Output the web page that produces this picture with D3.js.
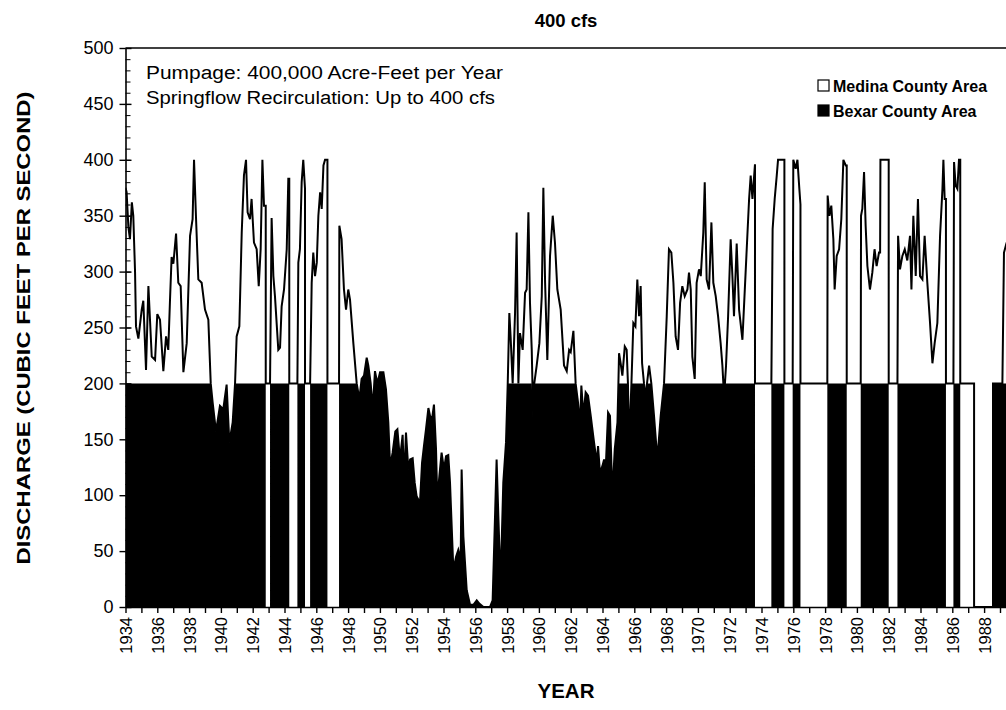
<!DOCTYPE html>
<html><head><meta charset="utf-8">
<script src="https://cdn.jsdelivr.net/npm/d3@7"></script>
<style>
body{margin:0;background:#fff}
svg{display:block}
text{font-family:Arial,"Liberation Sans",sans-serif;fill:#000}
</style>
</head><body>
<svg id="chart" width="1006" height="710"></svg>
<script>
// ---- data ----
const years = [
1934.00,1934.07,1934.18,1934.28,1934.40,1934.49,1934.60,1934.66,1934.81,1935.02,
1935.12,1935.29,1935.44,1935.65,1935.86,1936.00,1936.17,1936.38,1936.55,1936.69,
1936.80,1936.90,1937.01,1937.18,1937.32,1937.47,1937.64,1937.85,1938.06,1938.22,
1938.31,1938.43,1938.58,1938.79,1939.00,1939.21,1939.36,1939.48,1939.69,1939.94,
1940.15,1940.36,1940.53,1940.74,1940.89,1940.99,1941.16,1941.31,1941.45,1941.58,
1941.68,1941.83,1941.93,1942.08,1942.25,1942.38,1942.50,1942.61,1942.71,1942.82,
1942.82,1943.09,1943.09,1943.19,1943.30,1943.40,1943.61,1943.72,1943.82,1943.97,
1944.14,1944.24,1944.30,1944.30,1944.81,1944.81,1944.87,1944.97,1945.08,1945.18,
1945.29,1945.29,1945.61,1945.61,1945.71,1945.81,1945.92,1946.03,1946.13,1946.24,
1946.34,1946.45,1946.55,1946.70,1946.70,1947.43,1947.43,1947.45,1947.59,1947.74,
1947.87,1948.01,1948.12,1948.33,1948.54,1948.71,1948.85,1949.00,1949.17,1949.27,
1949.42,1949.55,1949.69,1949.84,1950.01,1950.22,1950.38,1950.53,1950.64,1950.80,
1950.97,1951.10,1951.26,1951.43,1951.52,1951.64,1951.79,1951.90,1952.06,1952.19,
1952.31,1952.52,1952.65,1952.77,1952.90,1953.05,1953.15,1953.28,1953.40,1953.53,
1953.61,1953.74,1953.88,1954.03,1954.16,1954.30,1954.41,1954.62,1954.79,1954.93,
1955.08,1955.14,1955.25,1955.46,1955.67,1955.88,1956.09,1956.25,1956.51,1956.92,
1957.09,1957.24,1957.34,1957.45,1957.59,1957.76,1957.93,1958.04,1958.14,1958.22,
1958.35,1958.50,1958.60,1958.71,1958.81,1958.98,1959.13,1959.23,1959.34,1959.44,
1959.55,1959.65,1959.71,1959.86,1960.03,1960.18,1960.28,1960.39,1960.53,1960.70,
1960.87,1961.01,1961.16,1961.37,1961.58,1961.75,1961.90,1962.00,1962.17,1962.31,
1962.46,1962.59,1962.67,1962.80,1962.94,1963.09,1963.26,1963.47,1963.64,1963.72,
1963.84,1963.99,1964.10,1964.20,1964.35,1964.47,1964.62,1964.77,1964.94,1965.00,
1965.04,1965.14,1965.25,1965.40,1965.52,1965.60,1965.67,1965.82,1965.94,1966.07,
1966.19,1966.30,1966.40,1966.49,1966.61,1966.72,1966.80,1966.93,1967.07,1967.24,
1967.45,1967.66,1967.87,1968.04,1968.18,1968.33,1968.46,1968.60,1968.75,1968.88,
1969.02,1969.17,1969.34,1969.44,1969.55,1969.65,1969.80,1969.92,1970.07,1970.18,
1970.34,1970.43,1970.55,1970.70,1970.85,1970.97,1971.12,1971.27,1971.43,1971.54,
1971.60,1971.64,1971.70,1971.77,1971.90,1972.06,1972.17,1972.27,1972.44,1972.59,
1972.80,1972.94,1973.07,1973.22,1973.32,1973.43,1973.59,1973.59,1974.62,1974.62,
1974.70,1974.83,1974.96,1975.04,1975.44,1975.44,1975.96,1975.96,1976.00,1976.15,
1976.26,1976.38,1976.45,1976.45,1978.14,1978.14,1978.16,1978.27,1978.39,1978.52,
1978.60,1978.73,1978.88,1979.02,1979.15,1979.30,1979.36,1979.36,1980.24,1980.24,
1980.26,1980.34,1980.45,1980.55,1980.66,1980.82,1980.97,1981.11,1981.24,1981.39,
1981.46,1981.48,1982.00,1982.00,1982.55,1982.55,1982.59,1982.71,1982.86,1983.01,
1983.17,1983.34,1983.43,1983.55,1983.70,1983.84,1983.97,1984.12,1984.26,1984.43,
1984.60,1984.75,1984.89,1985.06,1985.23,1985.38,1985.44,1985.52,1985.60,1985.60,
1986.07,1986.07,1986.11,1986.21,1986.32,1986.42,1986.50,1986.50,1987.37,1987.37,
1988.56,1988.56,1989.15,1989.25,1989.42
];
const total = [
375,371,340,329,362,350,300,251,240,266,
274,212,287,224,221,262,257,211,242,230,
275,313,307,334,290,287,210,236,332,347,
400,350,293,290,266,257,200,183,157,180,
177,199,147,165,200,242,251,335,386,400,
353,347,365,326,320,287,320,400,359,359,
200,200,200,348,296,278,230,232,269,284,
320,383,383,200,200,200,308,320,380,400,
374,200,200,200,290,317,296,308,350,371,
356,395,400,400,200,200,200,341,329,284,
266,284,275,236,200,186,204,207,223,216,
200,177,211,200,210,210,195,165,126,138,
157,159,132,154,111,156,123,132,133,111,
99,93,129,144,159,178,171,168,181,141,
96,117,138,123,135,136,111,33,45,51,
42,123,63,15,2,2,6,3,0,0,
6,81,132,81,21,111,147,200,263,242,
200,263,335,200,245,230,281,284,353,272,
230,162,200,216,236,278,375,290,221,314,
350,326,284,266,216,211,230,228,247,200,
183,162,198,171,192,189,171,147,129,144,
120,126,132,123,174,171,99,141,165,200,
227,218,207,233,230,200,145,200,254,251,
293,260,287,218,200,187,200,216,200,171,
132,171,200,260,320,317,290,242,230,272,
287,278,284,299,284,224,204,290,302,296,
335,380,293,284,344,290,278,260,236,216,
200,180,200,216,260,329,296,260,325,266,
239,281,320,365,386,365,396,200,200,200,
338,365,386,400,400,200,200,200,400,392,
400,374,360,200,200,200,368,350,359,329,
284,314,320,347,400,395,395,200,200,200,
350,356,389,341,305,284,299,320,305,317,
317,400,400,200,200,200,332,302,314,320,
310,332,284,350,296,365,296,293,332,290,
254,218,236,254,332,374,400,365,365,200,
200,200,398,377,374,400,400,200,200,0,
0,200,200,317,326
];
const bexar = [
200,200,200,200,200,200,200,200,200,200,
200,200,200,200,200,200,200,200,200,200,
200,200,200,200,200,200,200,200,200,200,
200,200,200,200,200,200,200,183,157,180,
177,199,147,165,200,200,200,200,200,200,
200,200,200,200,200,200,200,200,200,200,
0,0,200,200,200,200,200,200,200,200,
200,200,200,0,0,200,200,200,200,200,
200,0,0,200,200,200,200,200,200,200,
200,200,200,200,0,0,200,200,200,200,
200,200,200,200,200,186,204,207,223,216,
200,177,211,200,210,210,195,165,126,138,
157,159,132,154,111,156,123,132,133,111,
99,93,129,144,159,178,171,168,181,141,
96,117,138,123,135,136,111,33,45,51,
42,123,63,15,2,2,6,3,0,0,
6,81,132,81,21,111,147,200,200,200,
200,200,200,200,200,200,200,200,200,200,
200,162,200,200,200,200,200,200,200,200,
200,200,200,200,200,200,200,200,200,200,
183,162,198,171,192,189,171,147,129,144,
120,126,132,123,174,171,99,141,165,200,
200,200,200,200,200,200,145,200,200,200,
200,200,200,200,200,187,200,200,200,171,
132,171,200,200,200,200,200,200,200,200,
200,200,200,200,200,200,200,200,200,200,
200,200,200,200,200,200,200,200,200,200,
200,180,200,200,200,200,200,200,200,200,
200,200,200,200,200,200,200,0,0,200,
200,200,200,200,200,0,0,200,200,200,
200,200,200,0,0,200,200,200,200,200,
200,200,200,200,200,200,200,0,0,200,
200,200,200,200,200,200,200,200,200,200,
200,200,200,0,0,200,200,200,200,200,
200,200,200,200,200,200,200,200,200,200,
200,200,200,200,200,200,200,200,200,0,
0,200,200,200,200,200,200,0,0,0,
0,200,200,200,200
];
const yTickValues = [0,50,100,150,200,250,300,350,400,450,500];
const xTickYears = d3.range(1934, 1990);
const titleText = "400 cfs";
const notes = ["Pumpage: 400,000 Acre-Feet per Year", "Springflow Recirculation: Up to 400 cfs"];
const noteWidths = [357, 349];
const legendItems = [{label:"Medina County Area", fill:"#fff"}, {label:"Bexar County Area", fill:"#000"}];

// ---- drawing ----
const svg = d3.select("#chart");
const x = d3.scaleLinear().domain([1934, 1990]).range([125.5, 1015.9]);
const y = d3.scaleLinear().domain([0, 500]).range([607, 48]);
const pts = years.map((yr, i) => ({yr, t: total[i], b: bexar[i]}));

svg.append("defs").append("clipPath").attr("id","clip")
  .append("rect").attr("x",125.5).attr("y",40).attr("width",890).attr("height",568);

const plot = svg.append("g").attr("clip-path","url(#clip)");
plot.append("path").datum(pts)
  .attr("d", d3.area().x(d=>x(d.yr)).y0(y(0)).y1(d=>y(d.b)))
  .attr("fill","#000");
plot.append("path").datum(pts)
  .attr("d", d3.line().x(d=>x(d.yr)).y(d=>y(d.t)))
  .attr("fill","none").attr("stroke","#000").attr("stroke-width",2).attr("stroke-linejoin","miter");

// top frame line
svg.append("line").attr("x1",x(1934)).attr("x2",1006).attr("y1",y(500)).attr("y2",y(500))
  .attr("stroke","#000").attr("stroke-width",1.6);

// x axis
const xAxis = svg.append("g").attr("transform",`translate(0,${y(0)})`)
  .call(d3.axisBottom(x).tickValues(xTickYears).tickSize(6).tickSizeOuter(0)
    .tickFormat(d => d % 2 === 0 ? String(d) : ""));
xAxis.select(".domain").attr("stroke-width",1.6);
xAxis.selectAll(".tick line").attr("stroke-width",1.4);
xAxis.selectAll("text").attr("transform","rotate(-90)").attr("x",-10).attr("y",0).attr("dy","0.36em")
  .style("text-anchor","end").style("font-size","16.5px").attr("font-family","Arial, 'Liberation Sans', sans-serif");

// y axis
const yAxis = svg.append("g").attr("transform",`translate(${x(1934)},0)`)
  .call(d3.axisLeft(y).tickValues(yTickValues).tickSize(6).tickSizeOuter(0).tickPadding(6));
yAxis.select(".domain").attr("stroke-width",1.6);
yAxis.selectAll(".tick line").attr("stroke-width",1.4);
yAxis.selectAll("text").style("font-size","18px").attr("font-family","Arial, 'Liberation Sans', sans-serif");
const yMinor = svg.append("g").attr("transform",`translate(${x(1934)},0)`)
  .call(d3.axisRight(y).tickValues(d3.range(0,501,10)).tickSize(5).tickSizeOuter(0).tickFormat(""));
yMinor.select(".domain").remove();
const yMajR = svg.append("g").attr("transform",`translate(${x(1934)},0)`)
  .call(d3.axisRight(y).tickValues(yTickValues).tickSize(6).tickSizeOuter(0).tickFormat(""));
yMajR.select(".domain").remove();
yMajR.selectAll(".tick line").attr("stroke-width",1.4);

// titles
svg.append("text").attr("x",566).attr("y",27).attr("text-anchor","middle")
  .style("font-size","18.5px").style("font-weight","bold").text(titleText);
svg.append("text").attr("x",566).attr("y",698).attr("text-anchor","middle")
  .style("font-size","20px").style("font-weight","bold").attr("textLength",57).attr("lengthAdjust","spacingAndGlyphs").text("YEAR");
svg.append("text").attr("transform","translate(30,328) rotate(-90)").attr("text-anchor","middle")
  .style("font-size","19px").style("font-weight","bold")
  .attr("textLength",473).attr("lengthAdjust","spacingAndGlyphs").text("DISCHARGE (CUBIC FEET PER SECOND)");

// notes
svg.selectAll("text.note").data(notes).enter().append("text").attr("class","note")
  .attr("x",146).attr("y",(d,i)=>79+i*25).style("font-size","18px")
  .attr("textLength",(d,i)=>noteWidths[i]).attr("lengthAdjust","spacingAndGlyphs").text(d=>d);

// legend
const lg = svg.selectAll("g.lg").data(legendItems).enter().append("g").attr("class","lg")
  .attr("transform",(d,i)=>`translate(818,${80+i*25})`);
lg.append("rect").attr("width",11).attr("height",11).attr("fill",d=>d.fill).attr("stroke","#000").attr("stroke-width",1.2);
lg.append("text").attr("x",15).attr("y",11.5).style("font-size","16px").style("font-weight","bold").text(d=>d.label);
</script>
</body></html>
